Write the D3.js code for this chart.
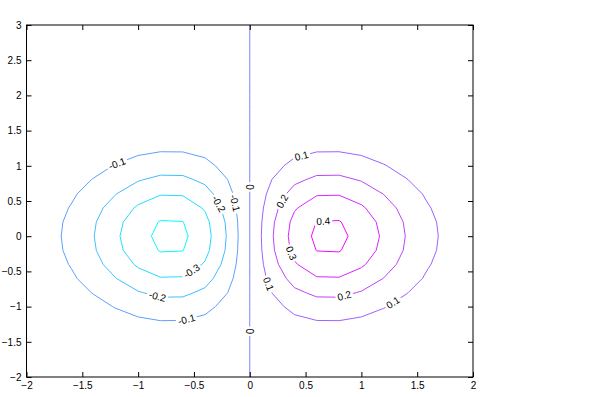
<!DOCTYPE html>
<html lang="en">
<head>
<meta charset="UTF-8">
<title>Contour plot with labels</title>
<script src="https://d3js.org/d3.v7.min.js"></script>
<style>
    body { margin: 0; background: #fff; }
    text { font-family: "Liberation Sans", Arial, sans-serif; font-size: 10px; fill: #000; }
</style>
</head>
<body>
<div id="chart"></div>
<script>
var w = 600;
var h = 397;

// grid of the field, z = xProfile[i] * yProfile[j]
var xGrid = [-2, -1.8, -1.6, -1.4, -1.2, -1, -0.8, -0.6, -0.4, -0.2, 0,
             0.2, 0.4, 0.6, 0.8, 1, 1.2, 1.4, 1.6, 1.8, 2];
var yGrid = [-2, -1.8, -1.6, -1.4, -1.2, -1, -0.8, -0.6, -0.4, -0.2, 0,
             0.2, 0.4, 0.6, 0.8, 1, 1.2, 1.4, 1.6, 1.8, 2, 2.2, 2.4, 2.6, 2.8, 3];
var xProfile = [-0.0366, -0.0705, -0.1237, -0.1972, -0.2843, -0.3679, -0.4218, -0.4186, -0.3409, -0.1922, 0,
                0.1922, 0.3409, 0.4186, 0.4218, 0.3679, 0.2843, 0.1972, 0.1237, 0.0705, 0.0366];
var yProfile = [0.0183, 0.0392, 0.0773, 0.1409, 0.2369, 0.3679, 0.5273, 0.6977, 0.8521, 0.9608, 1,
                0.9608, 0.8521, 0.6977, 0.5273, 0.3679, 0.2369, 0.1409, 0.0773, 0.0392, 0.0183,
                0.0079, 0.0032, 0.0012, 0.0004, 0.0001];

var levels = [-0.4, -0.3, -0.2, -0.1, 0, 0.1, 0.2, 0.3, 0.4];

// contour labels: level and rough spot (data units), snapped to the line
var labelLevels = [-0.1, -0.2, -0.1, 0, -0.3, -0.2, -0.1, 0, 0.1, 0.2, 0.4, 0.3, 0.1, 0.2, 0.1];
var labelX = [-1.19, -0.30, -0.13, 0, -0.52, -0.83, -0.565, 0, 0.465, 0.30, 0.66, 0.375, 0.15, 0.85, 1.29];
var labelY = [1.04, 0.44, 0.47, 0.70, -0.50, -0.87, -1.19, -1.35, 1.13, 0.49, 0.18, -0.24, -0.69, -0.86, -0.96];

var xTicks = [-2, -1.5, -1, -0.5, 0, 0.5, 1, 1.5, 2];
var yTicks = [-2, -1.5, -1, -0.5, 0, 0.5, 1, 1.5, 2, 2.5, 3];

var plotL = 26.5, plotR = 473, plotT = 25, plotB = 377;

var xScale = d3.scaleLinear().domain([-2, 2]).range([plotL, plotR]);
var yScale = d3.scaleLinear().domain([-2, 3]).range([plotB, plotT]);

var svg = d3.select("#chart")
            .append("svg")
            .attr("width", w)
            .attr("height", h);

svg.append("clipPath")
   .attr("id", "plotclip")
   .append("rect")
   .attr("x", plotL).attr("y", plotT)
   .attr("width", plotR - plotL).attr("height", plotB - plotT);

var nx = xGrid.length, ny = yGrid.length;
var values = [];
yProfile.forEach(function(by) {
    xProfile.forEach(function(ax) { values.push(ax * by); });
});

var color = d3.scaleLinear()
              .domain(d3.extent(values))
              .range(["#00ffff", "#ff00ff"]);

var contours = d3.contours()
                 .size([nx, ny])
                 .thresholds(levels)(values);

// grid index -> pixels (d3 puts value k at k + 0.5)
var dxStep = xGrid[1] - xGrid[0], dyStep = yGrid[1] - yGrid[0];
function gx(c) { return xScale(xGrid[0] + (c - 0.5) * dxStep); }
function gy(c) { return yScale(yGrid[0] + (c - 0.5) * dyStep); }

var path = d3.geoPath(d3.geoTransform({
    point: function(x, y) { this.stream.point(gx(x), gy(y)); }
}));

svg.append("g")
   .attr("clip-path", "url(#plotclip)")
   .selectAll("path")
   .data(contours)
   .enter()
   .append("path")
   .attr("d", path)
   .attr("fill", "none")
   .attr("stroke", function(d) { return color(d.value); })
   .attr("stroke-width", 1);

// labels
var labelLayer = svg.append("g");
labelLevels.forEach(function(lv, k) {
    var c = contours.find(function(d) { return Math.abs(d.value - lv) < 1e-9; });
    var ax = xScale(labelX[k]), ay = yScale(labelY[k]);
    var best = null;
    c.coordinates.forEach(function(poly) {
        poly.forEach(function(ring) {
            for (var i = 0; i < ring.length - 1; i++) {
                var x1 = gx(ring[i][0]), y1 = gy(ring[i][1]);
                var x2 = gx(ring[i + 1][0]), y2 = gy(ring[i + 1][1]);
                var vx = x2 - x1, vy = y2 - y1;
                var len2 = vx * vx + vy * vy;
                if (len2 === 0) continue;
                var t = ((ax - x1) * vx + (ay - y1) * vy) / len2;
                t = Math.max(0, Math.min(1, t));
                var px = x1 + t * vx, py = y1 + t * vy;
                var dist = (px - ax) * (px - ax) + (py - ay) * (py - ay);
                if (!best || dist < best.dist) {
                    best = {dist: dist, x: px, y: py, angle: Math.atan2(vy, vx) * 180 / Math.PI};
                }
            }
        });
    });
    var ang = best.angle;
    if (ang > 90) ang -= 180;
    if (ang <= -90) ang += 180;

    var g = labelLayer.append("g")
        .attr("transform", "translate(" + best.x + "," + best.y + ") rotate(" + ang + ")");
    var bg = g.append("rect").attr("fill", "#fff");
    var txt = g.append("text")
        .attr("text-anchor", "middle")
        .attr("dy", "0.35em")
        .text(String(lv));
    var tl = txt.node().getComputedTextLength();
    bg.attr("x", -tl / 2 - 2).attr("y", -4.5)
      .attr("width", tl + 4).attr("height", 9);
});

// axes, ticks inward on all sides
var fmt = d3.format("");
svg.append("g")
   .attr("transform", "translate(0," + plotB + ")")
   .call(d3.axisBottom(xScale).tickValues(xTicks).tickSizeInner(-5).tickSizeOuter(0)
         .tickPadding(5).tickFormat(fmt));
svg.append("g")
   .attr("transform", "translate(0," + plotT + ")")
   .call(d3.axisTop(xScale).tickValues(xTicks).tickSizeInner(-5).tickSizeOuter(0)
         .tickFormat(""));
svg.append("g")
   .attr("transform", "translate(" + plotL + ",0)")
   .call(d3.axisLeft(yScale).tickValues(yTicks).tickSizeInner(-5).tickSizeOuter(0)
         .tickPadding(5).tickFormat(fmt));
svg.append("g")
   .attr("transform", "translate(" + plotR + ",0)")
   .call(d3.axisRight(yScale).tickValues(yTicks).tickSizeInner(-5).tickSizeOuter(0)
         .tickFormat(""));

svg.selectAll(".domain").remove();
svg.selectAll(".tick text")
   .attr("font-family", "Liberation Sans, Arial, sans-serif")
   .attr("font-size", 10)
   .attr("fill", "#000");
svg.selectAll(".tick line").attr("stroke", "#000");

svg.append("rect")
   .attr("x", plotL).attr("y", plotT)
   .attr("width", plotR - plotL).attr("height", plotB - plotT)
   .attr("fill", "none")
   .attr("stroke", "#000")
   .attr("stroke-width", 1);
</script>
</body>
</html>
